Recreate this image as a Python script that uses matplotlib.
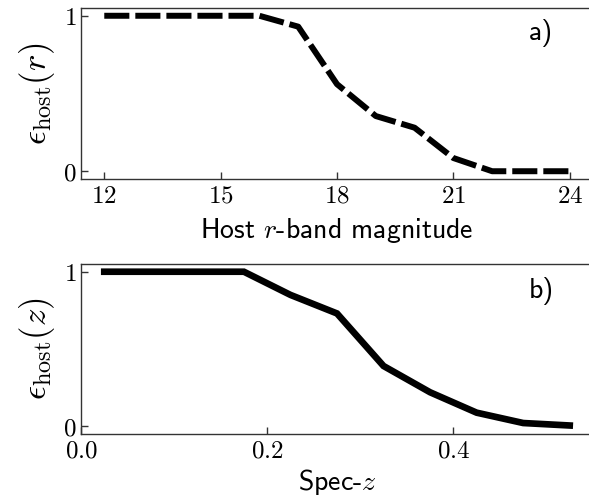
import matplotlib
matplotlib.use("Agg")
import matplotlib.pyplot as plt
from matplotlib.ticker import FuncFormatter

plt.rcParams['mathtext.fontset'] = 'cm'

# Panel a data
mag = [12, 13, 14, 15, 16, 17, 18, 19, 20, 21, 22, 23, 24]
eff_mag = [1.0, 1.0, 1.0, 1.0, 1.0, 0.93, 0.56, 0.355, 0.28, 0.085, 0.0, 0.0, 0.0]
mag_ticks = [12, 15, 18, 21, 24]

# Panel b data
specz = [0.025, 0.075, 0.125, 0.175, 0.225, 0.275, 0.325, 0.375, 0.425, 0.475, 0.525]
eff_z = [1.0, 1.0, 1.0, 1.0, 0.85, 0.73, 0.39, 0.22, 0.088, 0.021, 0.005]
z_ticks = [0.0, 0.2, 0.4]

W, H = 589, 497
fig = plt.figure(figsize=(W/100, H/100), dpi=100)

left = 81 / W
width = (593 - 81) / W
ax1 = fig.add_axes([left, 1 - 179/H, width, 171/H])
ax2 = fig.add_axes([left, 1 - 434/H, width, 170/H])

ax1.plot(mag, eff_mag, color='black', lw=4.3, linestyle=(0, (4.2, 1.0)),
         dash_capstyle='butt', solid_joinstyle='miter')
ax2.plot(specz, eff_z, color='black', lw=4.8, solid_joinstyle='miter')

sans = 'cmss10'
for ax in (ax1, ax2):
    ax.set_ylim(-0.05, 1.05)
    ax.set_yticks([0, 1])
    ax.yaxis.set_major_formatter(FuncFormatter(lambda v, p: r'$%d$' % v))
    ax.tick_params(direction='in', length=5, width=1, labelsize=18,
                   color='#333333', top=False, right=False)
    for s in ax.spines.values():
        s.set_color('#333333')
        s.set_linewidth(1.0)

ax1.set_xlim(11.4, 24.6)
ax1.set_xticks(mag_ticks)
ax1.xaxis.set_major_formatter(FuncFormatter(lambda v, p: r'$%d$' % v))
ax2.set_xlim(0.0, 0.55)
ax2.set_xticks(z_ticks)
ax2.xaxis.set_major_formatter(FuncFormatter(lambda v, p: r'$%.1f$' % v))

ax1.set_xlabel(r'Host $r$-band magnitude', fontsize=20, family=sans, labelpad=6)
ax2.set_xlabel(r'Spec-$z$', fontsize=20, family=sans, labelpad=3)
ax1.set_ylabel(r'$\epsilon_{\rm host}(r)$', fontsize=25, labelpad=4)
ax2.set_ylabel(r'$\epsilon_{\rm host}(z)$', fontsize=25, labelpad=4)

ax1.text(541/W, 1 - 33/H, 'a)', transform=fig.transFigure, fontsize=20,
         family=sans, ha='center', va='center')
ax2.text(541/W, 1 - 291/H, 'b)', transform=fig.transFigure, fontsize=20,
         family=sans, ha='center', va='center')

fig.savefig('out.png', dpi=100)
